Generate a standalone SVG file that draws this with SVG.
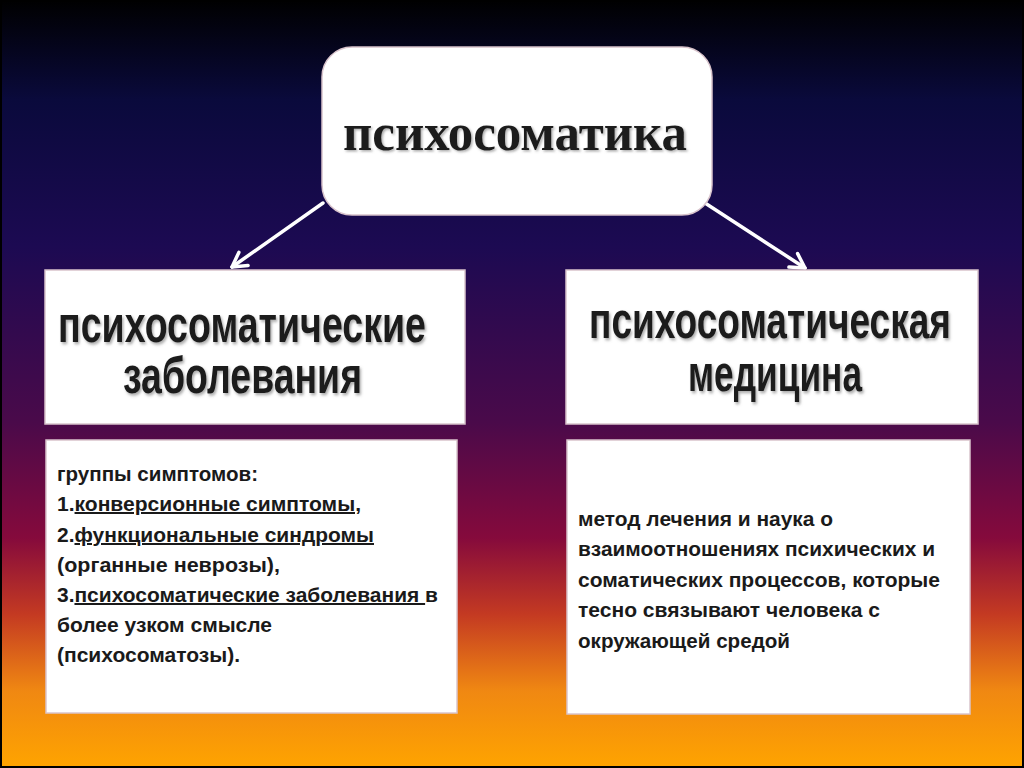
<svg xmlns="http://www.w3.org/2000/svg" width="1024" height="768" viewBox="0 0 1024 768">
  <defs>
    <linearGradient id="bg" x1="0" y1="0" x2="0" y2="1">
      <stop offset="0" stop-color="#000000"/>
      <stop offset="0.13" stop-color="#0a0a3c"/>
      <stop offset="0.32" stop-color="#1c0a52"/>
      <stop offset="0.55" stop-color="#4a0a4a"/>
      <stop offset="0.7" stop-color="#850a3c"/>
      <stop offset="0.8" stop-color="#c43a22"/>
      <stop offset="0.9" stop-color="#f08812"/>
      <stop offset="1" stop-color="#ffa400"/>
    </linearGradient>
    <filter id="shadow" x="-10%" y="-40%" width="120%" height="180%">
      <feDropShadow dx="1.5" dy="1.5" stdDeviation="1" flood-color="#666666" flood-opacity="0.55"/>
    </filter>
    <marker id="arrow" viewBox="0 0 20 20" refX="18" refY="10" markerWidth="20" markerHeight="20" markerUnits="userSpaceOnUse" orient="auto">
      <path d="M4,2 L18,10 L4,18" fill="none" stroke="#ffffff" stroke-width="3.5" stroke-linecap="round" stroke-linejoin="round"/>
    </marker>
  </defs>
  <style>
    .box { fill: #ffffff; stroke: #d9c4cc; stroke-width: 1.5; }
    .title { font-family: "Liberation Serif", "Times New Roman", serif; font-weight: bold; font-size: 52px; fill: #1a1a1a; }
    .head { font-family: "Liberation Sans", Arial, sans-serif; font-weight: bold; font-size: 36px; fill: #1a1a1a; }
    .body { font-family: "Liberation Sans", Arial, sans-serif; font-weight: bold; font-size: 20px; fill: #1a1a1a; }
    .u { text-decoration: underline; }
    .conn { stroke: #ffffff; stroke-width: 3.5; fill: none; stroke-linecap: round; }
  </style>

  <rect x="0" y="0" width="1024" height="768" fill="url(#bg)"/>
  <rect x="1" y="1" width="1022" height="766" fill="none" stroke="#000000" stroke-width="2"/>

  <g id="connectors">
    <line class="conn" x1="323" y1="203" x2="232" y2="267" marker-end="url(#arrow)"/>
    <line class="conn" x1="705" y1="203" x2="805" y2="268" marker-end="url(#arrow)"/>
  </g>

  <g id="node-root">
    <rect class="box" x="322" y="47" width="390" height="168" rx="30" ry="30"/>
    <text class="title" x="515" y="150" text-anchor="middle" textLength="344" lengthAdjust="spacingAndGlyphs" filter="url(#shadow)">психосоматика</text>
  </g>

  <g id="node-diseases">
    <rect class="box" x="45" y="270" width="420" height="154"/>
    <text class="head" transform="translate(58,342) scale(1,1.45)" textLength="368" lengthAdjust="spacingAndGlyphs" filter="url(#shadow)">психосоматические</text>
    <text class="head" transform="translate(123,393) scale(1,1.45)" textLength="239" lengthAdjust="spacingAndGlyphs" filter="url(#shadow)">заболевания</text>
  </g>

  <g id="node-medicine">
    <rect class="box" x="566" y="270" width="412" height="154"/>
    <text class="head" transform="translate(589,338) scale(1,1.45)" textLength="362" lengthAdjust="spacingAndGlyphs" filter="url(#shadow)">психосоматическая</text>
    <text class="head" transform="translate(688,391) scale(1,1.45)" textLength="174" lengthAdjust="spacingAndGlyphs" filter="url(#shadow)">медицина</text>
  </g>

  <g id="node-symptoms">
    <rect class="box" x="46" y="440" width="411" height="273"/>
    <text class="body" x="57" y="481" textLength="201" lengthAdjust="spacingAndGlyphs">группы симптомов:</text>
    <text class="body" x="57" y="511" textLength="304" lengthAdjust="spacingAndGlyphs">1.<tspan class="u">конверсионные симптомы,</tspan></text>
    <text class="body" x="57" y="542" textLength="317" lengthAdjust="spacingAndGlyphs">2.<tspan class="u">функциональные синдромы</tspan></text>
    <text class="body" x="57" y="572" textLength="223" lengthAdjust="spacingAndGlyphs">(органные неврозы),</text>
    <text class="body" x="57" y="602" textLength="381" lengthAdjust="spacingAndGlyphs">3.<tspan class="u">психосоматические заболевания </tspan>в</text>
    <text class="body" x="57" y="632" textLength="215" lengthAdjust="spacingAndGlyphs">более узком смысле</text>
    <text class="body" x="57" y="662" textLength="183" lengthAdjust="spacingAndGlyphs">(психосоматозы).</text>
  </g>

  <g id="node-definition">
    <rect class="box" x="567" y="440" width="403" height="274"/>
    <text class="body" x="578" y="526" textLength="255" lengthAdjust="spacingAndGlyphs">метод лечения и наука о</text>
    <text class="body" x="578" y="556" textLength="357" lengthAdjust="spacingAndGlyphs">взаимоотношениях психических и</text>
    <text class="body" x="578" y="587" textLength="362" lengthAdjust="spacingAndGlyphs">соматических процессов, которые</text>
    <text class="body" x="578" y="617" textLength="302" lengthAdjust="spacingAndGlyphs">тесно связывают человека с</text>
    <text class="body" x="578" y="648" textLength="212" lengthAdjust="spacingAndGlyphs">окружающей средой</text>
  </g>
</svg>
